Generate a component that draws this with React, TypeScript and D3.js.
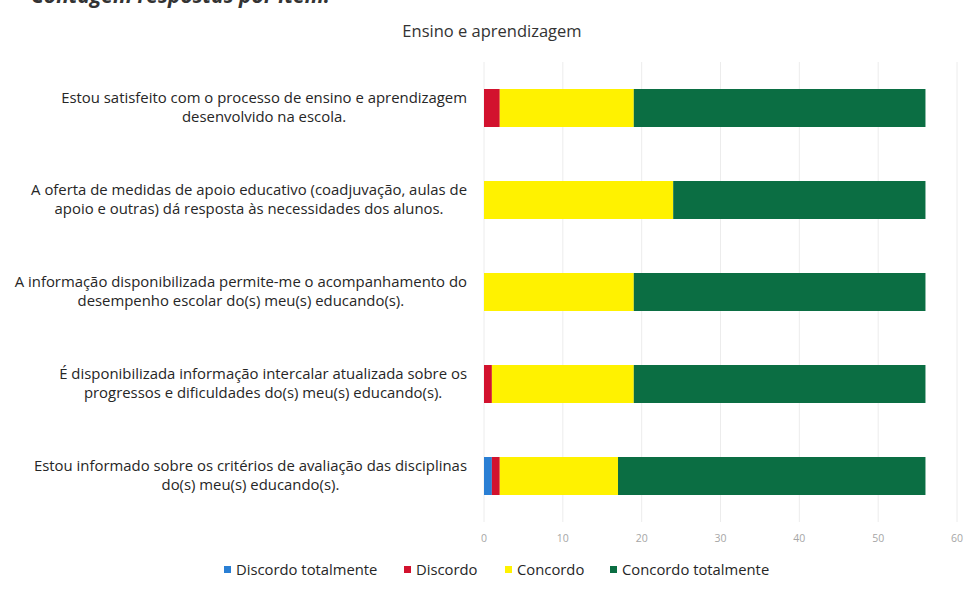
import React, { useEffect, useRef } from "react";
import * as d3 from "d3";

const categories: string[][] = [
  ["Estou satisfeito com o processo de ensino e aprendizagem", "desenvolvido na escola."],
  ["A oferta de medidas de apoio educativo (coadjuvação, aulas de", "apoio e outras) dá resposta às necessidades dos alunos."],
  ["A informação disponibilizada permite-me o acompanhamento do", "desempenho escolar do(s) meu(s) educando(s)."],
  ["É disponibilizada informação intercalar atualizada sobre os", "progressos e dificuldades do(s) meu(s) educando(s)."],
  ["Estou informado sobre os critérios de avaliação das disciplinas", "do(s) meu(s) educando(s)."],
];
const seriesNames = ["Discordo totalmente", "Discordo", "Concordo", "Concordo totalmente"];
const discordoTotalmente = [0, 0, 0, 0, 1];
const discordo = [2, 0, 0, 1, 1];
const concordo = [17, 24, 19, 18, 15];
const concordoTotalmente = [37, 32, 37, 37, 39];
const ticks = [0, 10, 20, 30, 40, 50, 60];
const colors = ["#2a7fd4", "#d2122e", "#fff200", "#0b6e43"];
const title = "Ensino e aprendizagem";
const topTitle = "Contagem respostas por item:";

export default function App() {
  const ref = useRef<SVGSVGElement>(null);
  useEffect(() => {
    const svg = d3.select(ref.current);
    svg.selectAll("*").remove();
    const W = 965, H = 590;
    const x = d3.scaleLinear().domain([0, 60]).range([484, 957]);
    const y = d3.scaleBand<number>().domain(d3.range(categories.length)).range([62, 522]).paddingInner(0.587).paddingOuter(0.2935);
    const font = "'Open Sans', sans-serif";

    svg.append("rect").attr("width", W).attr("height", H).attr("fill", "#fff");

    svg.append("text").attr("x", 31).attr("y", 3).attr("font-family", font).attr("font-size", 21)
      .attr("font-weight", "bold").attr("font-style", "italic").attr("fill", "#333").text(topTitle);

    svg.append("text").attr("x", 492).attr("y", 37).attr("text-anchor", "middle").attr("font-family", font)
      .attr("font-size", 16.5).attr("fill", "#333").text(title);

    // gridlines
    svg.append("g").selectAll("line").data(ticks).join("line")
      .attr("x1", (d) => x(d)).attr("x2", (d) => x(d)).attr("y1", 62).attr("y2", 522)
      .attr("stroke", "#ececec").attr("stroke-width", 1);

    // tick labels
    svg.append("g").selectAll("text").data(ticks).join("text")
      .attr("x", (d) => x(d)).attr("y", 542).attr("text-anchor", "middle").attr("font-family", font)
      .attr("font-size", 10.5).attr("fill", "#a6a6a6").text((d) => String(d));

    const data = categories.map((_, i) => ({
      i,
      [seriesNames[0]]: discordoTotalmente[i],
      [seriesNames[1]]: discordo[i],
      [seriesNames[2]]: concordo[i],
      [seriesNames[3]]: concordoTotalmente[i],
    }));
    const stack = d3.stack<any>().keys(seriesNames)(data);
    stack.forEach((s, si) => {
      svg.append("g").selectAll("rect").data(s).join("rect")
        .attr("x", (d) => x(d[0])).attr("width", (d) => x(d[1]) - x(d[0]))
        .attr("y", (d) => y((d.data as any).i)!).attr("height", y.bandwidth())
        .attr("fill", colors[si]);
    });

    // category labels
    const labelRight = 467;
    categories.forEach((lines, i) => {
      const cy = y(i)! + y.bandwidth() / 2;
      const g = svg.append("g");
      const texts = lines.map((ln, li) =>
        g.append("text").attr("y", cy - 5 + li * 19).attr("text-anchor", "middle")
          .attr("font-family", font).attr("font-size", 14.9).attr("fill", "#262626").text(ln)
      );
      const maxW = d3.max(texts, (t) => (t.node() as SVGTextElement).getComputedTextLength()) || 0;
      texts.forEach((t) => t.attr("x", labelRight - maxW / 2));
    });

    // legend
    const legendItems = [
      { x: 224, name: seriesNames[0] },
      { x: 404, name: seriesNames[1] },
      { x: 505, name: seriesNames[2] },
      { x: 610, name: seriesNames[3] },
    ];
    legendItems.forEach((it, i) => {
      svg.append("rect").attr("x", it.x).attr("y", 566).attr("width", 7).attr("height", 7).attr("fill", colors[i]);
      svg.append("text").attr("x", it.x + 12).attr("y", 575).attr("font-family", font).attr("font-size", 14.8)
        .attr("fill", "#262626").text(it.name);
    });
  }, []);
  return (
    <svg ref={ref} width={965} height={590} style={{ position: "absolute", left: 0, top: 0 }} />
  );
}
